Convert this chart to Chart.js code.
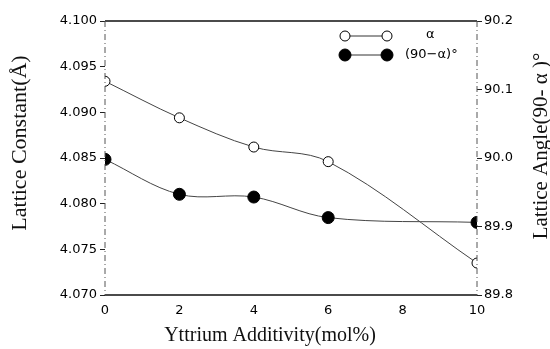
<!DOCTYPE html>
<html>
<head>
<meta charset="utf-8">
<script src="https://cdn.jsdelivr.net/npm/chart.js@4.4.1/dist/chart.umd.min.js"></script>
<style>
  html, body { margin: 0; padding: 0; background: #fff; }
  #wrap { width: 550px; height: 349px; position: relative; }
</style>
</head>
<body>
<div id="wrap"><canvas id="c" width="550" height="349"></canvas></div>
<script>
// ---- data ----
const additivity = [0, 2, 4, 6, 10];                       // mol%
const latticeConstant = [4.0934, 4.0894, 4.0862, 4.0846, 4.0735]; // Å (left axis)
const latticeAngle = [89.998, 89.947, 89.943, 89.913, 89.906];    // (90-α)° (right axis)
const xTicks = [0, 2, 4, 6, 8, 10];
const leftTicks = [4.070, 4.075, 4.080, 4.085, 4.090, 4.095, 4.100];
const rightTicks = [89.8, 89.9, 90.0, 90.1, 90.2];
const xTitle = 'Yttrium Additivity(mol%)';
const leftTitle = 'Lattice Constant(Å)';
const rightTitle = 'Lattice Angle(90- α )°';
const legendLabels = ['α', '(90−α)°'];

const tickFont = { family: 'DejaVu Sans', size: 13 };

const framePlugin = {
  id: 'frame',
  afterDraw(chart) {
    const { ctx, chartArea: a } = chart;
    ctx.save();
    // top and bottom solid lines
    ctx.strokeStyle = '#111';
    ctx.lineWidth = 1.3;
    ctx.setLineDash([]);
    ctx.beginPath();
    ctx.moveTo(a.left, a.top); ctx.lineTo(a.right, a.top);
    ctx.moveTo(a.left, a.bottom); ctx.lineTo(a.right, a.bottom);
    ctx.stroke();
    // left and right dash-dot lines
    ctx.strokeStyle = '#555';
    ctx.lineWidth = 1;
    ctx.setLineDash([6, 3, 1, 3]);
    ctx.beginPath();
    ctx.moveTo(a.left, a.top); ctx.lineTo(a.left, a.bottom);
    ctx.moveTo(a.right, a.top); ctx.lineTo(a.right, a.bottom);
    ctx.stroke();
    ctx.setLineDash([]);

    // legend
    const lx1 = a.left + 240, lx2 = a.left + 282;
    const rows = [{ y: a.top + 15, fill: '#fff', r: 5, lw: 1 }, { y: a.top + 34, fill: '#000', r: 6, lw: 1 }];
    rows.forEach((row) => {
      ctx.strokeStyle = '#333';
      ctx.lineWidth = 1;
      ctx.beginPath(); ctx.moveTo(lx1, row.y); ctx.lineTo(lx2, row.y); ctx.stroke();
      [lx1, lx2].forEach(px => {
        ctx.beginPath(); ctx.arc(px, row.y, row.r, 0, Math.PI * 2);
        ctx.fillStyle = row.fill; ctx.fill();
        ctx.strokeStyle = '#000'; ctx.lineWidth = row.lw; ctx.stroke();
      });
    });
    ctx.fillStyle = '#000';
    ctx.font = '13px "DejaVu Sans"';
    ctx.textBaseline = 'middle';
    ctx.textAlign = 'left';
    ctx.fillText(legendLabels[0], a.left + 321, rows[0].y - 1);
    ctx.fillText(legendLabels[1], a.left + 300, rows[1].y);

    // titles
    ctx.fillStyle = '#111';
    ctx.textAlign = 'center';
    ctx.textBaseline = 'middle';
    ctx.font = '20px "Liberation Serif"';
    ctx.fillText(xTitle, 270, 336);
    ctx.font = '22px "Liberation Serif"';
    ctx.save();
    ctx.translate(20, 143);
    ctx.rotate(-Math.PI / 2);
    ctx.fillText(leftTitle, 0, 0);
    ctx.restore();
    ctx.font = '21px "Liberation Serif"';
    ctx.save();
    ctx.translate(541, 146);
    ctx.rotate(-Math.PI / 2);
    ctx.fillText(rightTitle, 0, 0);
    ctx.restore();
    ctx.restore();
  }
};

new Chart(document.getElementById('c'), {
  type: 'line',
  data: {
    datasets: [
      {
        label: legendLabels[0],
        data: additivity.map((x, i) => ({ x, y: latticeConstant[i] })),
        yAxisID: 'y',
        borderColor: '#444',
        borderWidth: 1,
        tension: 0.35,
        pointRadius: 5,
        pointBackgroundColor: '#fff',
        pointBorderColor: '#000',
        pointBorderWidth: 1,
        order: 2
      },
      {
        label: legendLabels[1],
        data: additivity.map((x, i) => ({ x, y: latticeAngle[i] })),
        yAxisID: 'y1',
        borderColor: '#444',
        borderWidth: 1,
        tension: 0.35,
        pointRadius: 6,
        pointBackgroundColor: '#000',
        pointBorderColor: '#000',
        pointBorderWidth: 1,
        order: 1
      }
    ]
  },
  options: {
    responsive: false,
    animation: false,
    layout: { padding: { top: 21, left: 0, right: 0, bottom: 0 } },
    plugins: { legend: { display: false }, tooltip: { enabled: false } },
    scales: {
      x: {
        type: 'linear', min: 0, max: 10,
        afterBuildTicks: s => { s.ticks = xTicks.map(v => ({ value: v })); },
        afterFit: s => { s.height = 54; },
        grid: { drawOnChartArea: false, drawTicks: false },
        border: { display: false },
        ticks: { font: tickFont, color: '#000', padding: 8, callback: v => String(v) }
      },
      y: {
        position: 'left', min: 4.070, max: 4.100,
        afterBuildTicks: s => { s.ticks = leftTicks.map(v => ({ value: v })); },
        afterFit: s => { s.width = 105; },
        grid: { drawOnChartArea: false, drawTicks: true, tickLength: 5, color: '#222' },
        border: { display: false },
        ticks: { font: tickFont, color: '#000', padding: 3, callback: v => Number(v).toFixed(3) }
      },
      y1: {
        position: 'right', min: 89.8, max: 90.2,
        afterBuildTicks: s => { s.ticks = rightTicks.map(v => ({ value: v })); },
        afterFit: s => { s.width = 73; },
        grid: { drawOnChartArea: false, drawTicks: true, tickLength: 5, color: '#222' },
        border: { display: false },
        ticks: { font: tickFont, color: '#000', padding: 2, callback: v => Number(v).toFixed(1) }
      }
    }
  },
  plugins: [framePlugin]
});
</script>
</body>
</html>
